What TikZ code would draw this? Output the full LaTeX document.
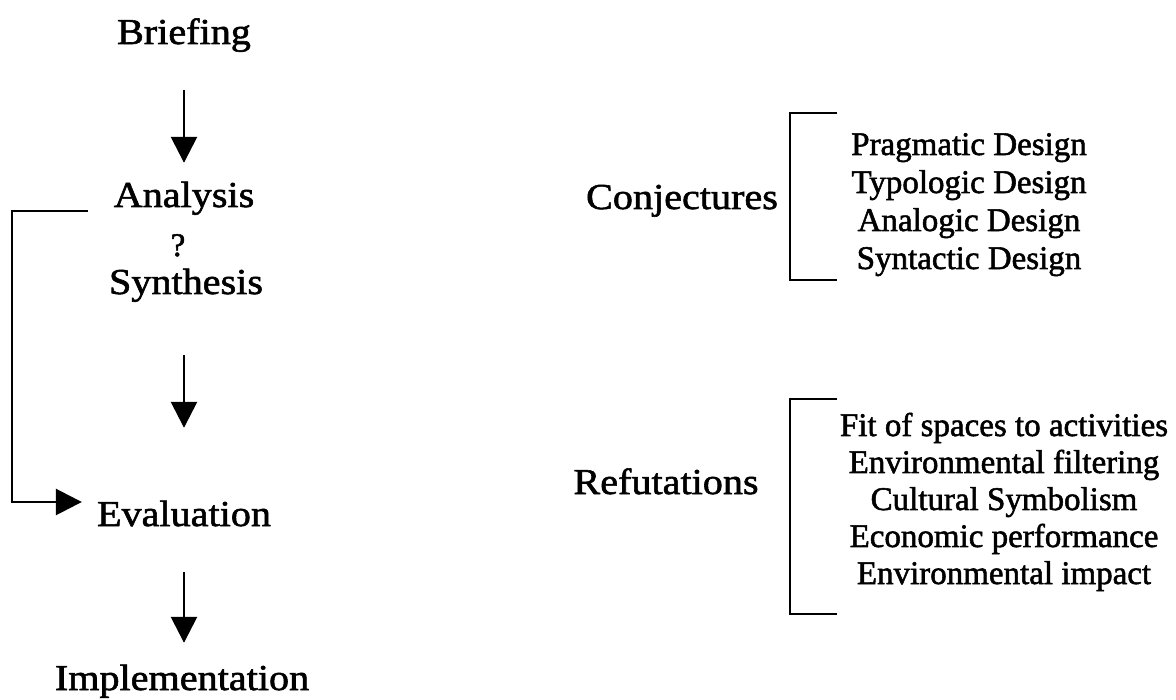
\documentclass[tikz,border=0pt]{standalone}
\usepackage{fontspec}
\setmainfont[FakeBold=1.6]{Liberation Serif}
\newfontfamily\stepfont[FakeStretch=1.1,FakeBold=1.6]{Liberation Serif}
\usetikzlibrary{arrows.meta}
\begin{document}
\begin{tikzpicture}[x=1pt,y=-1pt,
  stage/.style={font=\stepfont\fontsize{36.5}{40}\selectfont, inner sep=0pt,
    text height=26pt, text depth=8pt, anchor=base},
  group/.style={font=\stepfont\fontsize{36.5}{40}\selectfont, inner sep=0pt, anchor=base},
  item/.style={font=\fontsize{33}{38}\selectfont, inner sep=0pt, anchor=base},
  flow/.style={line width=2.7pt, -{Triangle[length=26pt,width=26pt]}},
  brk/.style={line width=2.7pt, line cap=butt}]
\useasboundingbox (0,0) rectangle (1176,700);

% main sequence of design stages
\node[stage] (brief) at (184,44) {Briefing};
\node[stage] (anal)  at (184,207) {Analysis};
\node[inner sep=0pt, anchor=base, font=\fontsize{33}{34}\selectfont] (q) at (178,256) {?};
\node[stage] (synth) at (186,294) {Synthesis};
\node[stage] (eval)  at (184,526) {Evaluation};
\node[stage] (impl)  at (182,690) {Implementation};

\draw[flow, shorten <=38pt, shorten >=18pt] (brief) -- (anal);
\draw[flow, shorten <=53pt, shorten >=72pt] (synth.south -| eval) -- (eval);
\draw[flow, shorten <=38pt, shorten >=21pt] (eval) -- (impl.north -| eval);

% feedback loop from analysis straight to evaluation
\coordinate (fbstart) at ([xshift=-26pt,yshift=-4pt]anal.base west);
\coordinate (fbend) at ([xshift=-15pt,yshift=15pt]eval.west);
\coordinate (loop) at (12,211);
\draw[flow] (fbstart) -- (loop |- fbstart) |- (fbend);

% conjectures
\node[group] (conj) at (682,209) {Conjectures};
\node[item] (c1) at (969,155) {Pragmatic Design};
\node[item] (c2) at (969,193) {Typologic Design};
\node[item] (c3) at (969,231) {Analogic Design};
\node[item] (c4) at (969,269) {Syntactic Design};
\draw[brk] (837,113) -- (790,113) -- (790,280) -- (837,280);

% refutations
\node[group] (refu) at (666,494) {Refutations};
\node[item] (r1) at (1004,436) {Fit of spaces to activities};
\node[item] (r2) at (1004,473) {Environmental filtering};
\node[item] (r3) at (1004,510) {Cultural Symbolism};
\node[item] (r4) at (1004,547) {Economic performance};
\node[item] (r5) at (1004,584) {Environmental impact};
\draw[brk] (837,399) -- (790,399) -- (790,614) -- (837,614);
\end{tikzpicture}
\end{document}
